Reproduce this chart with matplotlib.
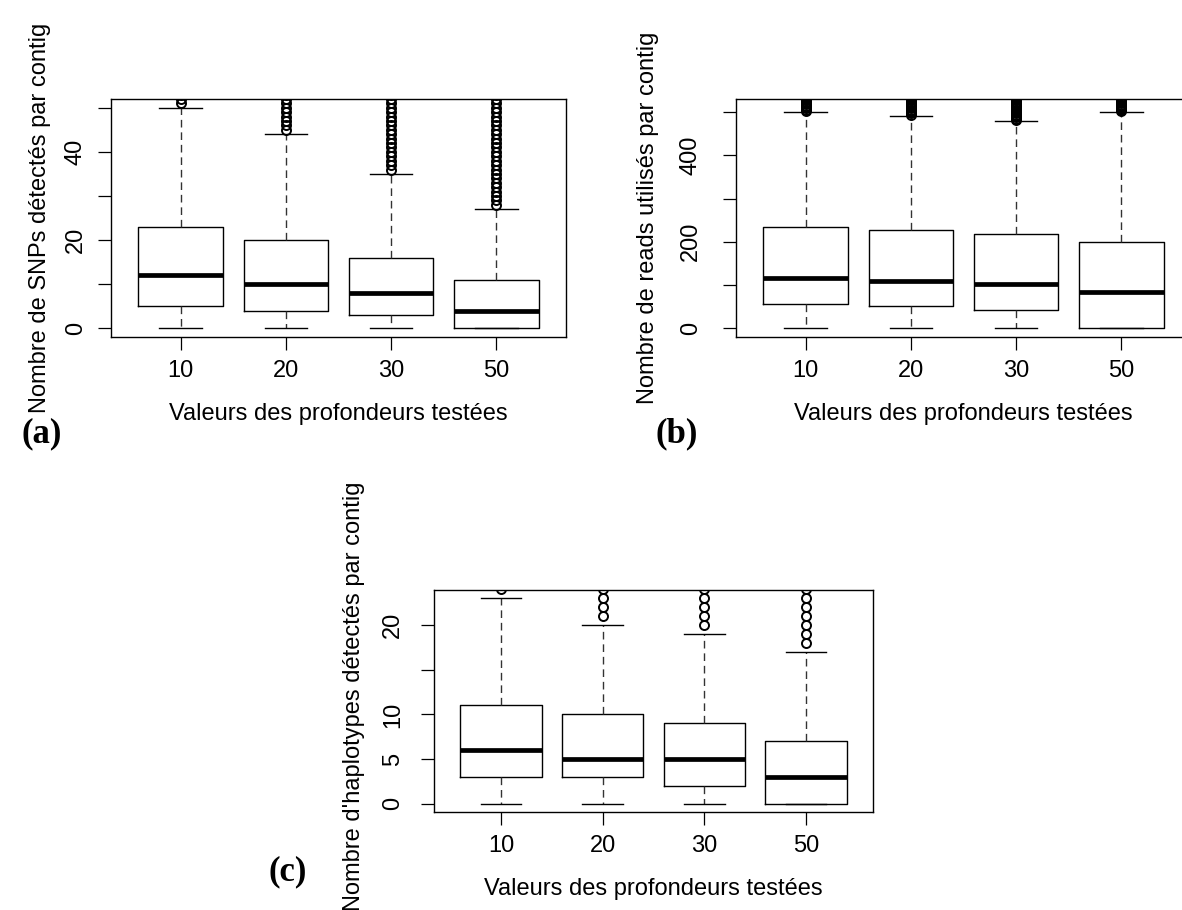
import matplotlib
matplotlib.use("Agg")
import matplotlib.pyplot as plt

# ---------------- data ----------------
depths = ["10", "20", "30", "50"]

# (a) SNPs per contig
snp_lo = [0, 0, 0, 0]
snp_q1 = [5, 4, 3, 0]
snp_med = [12, 10, 8, 4]
snp_q3 = [23, 20, 16, 11]
snp_hi = [50, 44, 35, 27]
snp_out_10 = [51, 52, 53]
snp_out_20 = [45, 46, 47, 48, 49, 50, 51, 52, 53]
snp_out_30 = [36, 37, 38, 39, 40, 41, 42, 43, 44, 45, 46, 47, 48, 49, 50, 51, 52, 53]
snp_out_50 = [28, 29, 30, 31, 32, 33, 34, 35, 36, 37, 38, 39, 40, 41, 42, 43, 44,
              45, 46, 47, 48, 49, 50, 51, 52, 53]
snp_ylim = (0, 50)
snp_ticks = [0, 10, 20, 30, 40, 50]
snp_ticklabels = ["0", "", "20", "", "40", ""]

# (b) reads per contig
reads_lo = [0, 0, 0, 0]
reads_q1 = [57, 52, 43, 0]
reads_med = [116, 109, 102, 84]
reads_q3 = [234, 227, 217, 200]
reads_hi = [501, 492, 480, 500]
reads_out_10 = [503, 506, 509, 512, 515, 518, 521, 524, 527, 530, 533, 536, 540]
reads_out_20 = [494, 497, 500, 503, 506, 509, 512, 515, 518, 521, 524, 527, 530, 533, 536, 540]
reads_out_30 = [482, 485, 488, 491, 494, 497, 500, 503, 506, 509, 512, 515, 518, 521,
                524, 527, 530, 533, 536, 540]
reads_out_50 = [502, 505, 508, 511, 514, 517, 520, 523, 526, 529, 532, 535, 540]
reads_ylim = (0, 510)
reads_ticks = [0, 100, 200, 300, 400, 500]
reads_ticklabels = ["0", "", "200", "", "400", ""]

# (c) haplotypes per contig
hap_lo = [0, 0, 0, 0]
hap_q1 = [3, 3, 2, 0]
hap_med = [6, 5, 5, 3]
hap_q3 = [11, 10, 9, 7]
hap_hi = [23, 20, 19, 17]
hap_out_10 = [24]
hap_out_20 = [21, 22, 23, 24]
hap_out_30 = [20, 21, 22, 23, 24]
hap_out_50 = [18, 19, 20, 21, 22, 23, 24]
hap_ylim = (0, 23)
hap_ticks = [0, 5, 10, 15, 20]
hap_ticklabels = ["0", "5", "10", "", "20"]

xlabel = "Valeurs des profondeurs testées"
ylab_a = "Nombre de SNPs détectés par contig"
ylab_b = "Nombre de reads utilisés par contig"
ylab_c = "Nombre d'haplotypes détectés par contig"

# ---------------- style ----------------
plt.rcParams["font.family"] = ["Liberation Sans", "DejaVu Sans"]
FS = 17
W, H = 1182, 910
fig = plt.figure(figsize=(W / 100, H / 100), dpi=100)


def make_axes(left, top, right, bottom):
    return fig.add_axes([left / W, 1 - bottom / H, (right - left) / W, (bottom - top) / H])


def draw_panel(ax, lo, q1, med, q3, hi, outs, ylim, ticks, ticklabels, ylab,
               ypad=9, ylabpad=10, ylab_y=0.5):
    stats = []
    for i in range(len(depths)):
        stats.append(dict(whislo=lo[i], q1=q1[i], med=med[i], q3=q3[i],
                          whishi=hi[i], fliers=outs[i], label=depths[i]))
    ax.bxp(stats, positions=[1, 2, 3, 4], widths=0.8, capwidths=0.4,
           boxprops=dict(color="black", lw=1.0),
           medianprops=dict(color="black", lw=3.4, solid_capstyle="butt"),
           whiskerprops=dict(color="#333333", lw=1.0, linestyle=(0, (5.5, 3.5))),
           capprops=dict(color="black", lw=1.0),
           flierprops=dict(marker="o", markerfacecolor="none", markeredgecolor="black",
                           markersize=6.5, markeredgewidth=1.4))
    rng = ylim[1] - ylim[0]
    ax.set_ylim(ylim[0] - 0.04 * rng, ylim[1] + 0.04 * rng)
    ax.set_xlim(0.34, 4.66)
    ax.set_xticks([1, 2, 3, 4])
    ax.set_xticklabels(depths, fontsize=FS)
    ax.set_yticks(ticks)
    ax.set_yticklabels(ticklabels, fontsize=FS, rotation=90, va="center")
    ax.tick_params(axis="both", length=9.5, width=0.9, color="black")
    ax.tick_params(axis="x", pad=7)
    ax.tick_params(axis="y", pad=ypad)
    for s in ax.spines.values():
        s.set_linewidth(1.0)
        s.set_color("black")
    ax.set_xlabel(xlabel, fontsize=FS, labelpad=15)
    ax.set_ylabel(ylab, fontsize=FS, labelpad=ylabpad, y=ylab_y)


ax_a = make_axes(111, 99, 566, 337)
draw_panel(ax_a, snp_lo, snp_q1, snp_med, snp_q3, snp_hi,
           [snp_out_10, snp_out_20, snp_out_30, snp_out_50],
           snp_ylim, snp_ticks, snp_ticklabels, ylab_a, ypad=8, ylabpad=10)

ax_b = make_axes(736, 99, 1191, 337)
draw_panel(ax_b, reads_lo, reads_q1, reads_med, reads_q3, reads_hi,
           [reads_out_10, reads_out_20, reads_out_30, reads_out_50],
           reads_ylim, reads_ticks, reads_ticklabels, ylab_b, ypad=15, ylabpad=15)

ax_c = make_axes(434, 590, 873, 812)
draw_panel(ax_c, hap_lo, hap_q1, hap_med, hap_q3, hap_hi,
           [hap_out_10, hap_out_20, hap_out_30, hap_out_50],
           hap_ylim, hap_ticks, hap_ticklabels, ylab_c, ypad=12, ylabpad=12,
           ylab_y=0.52)

serif = ["Liberation Serif", "DejaVu Serif"]
fig.text(42 / W, 1 - 434 / H, "(a)", fontsize=25, fontweight="bold", family=serif,
         ha="center", va="center")
fig.text(677 / W, 1 - 434 / H, "(b)", fontsize=25, fontweight="bold", family=serif,
         ha="center", va="center")
fig.text(288 / W, 1 - 872 / H, "(c)", fontsize=25, fontweight="bold", family=serif,
         ha="center", va="center")

fig.savefig("out.png", dpi=100)
